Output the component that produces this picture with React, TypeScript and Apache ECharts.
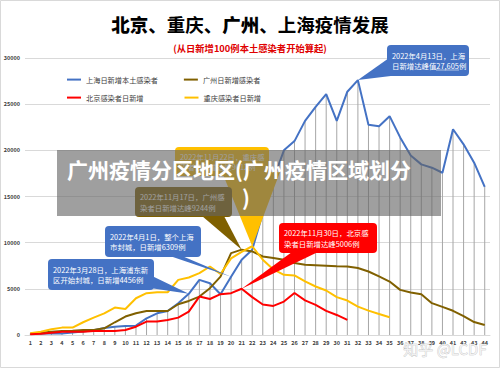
import React, { useEffect, useRef } from "react";
import * as echarts from "echarts";

const FONT = "'Noto Sans CJK SC', 'Noto Sans', sans-serif";

const categories = [
  "1", "2", "3", "4", "5", "6", "7", "8", "9", "10", "11", "12", "13", "14", "15",
  "16", "17", "18", "19", "20", "21", "22", "23", "24", "25", "26", "27", "28", "29", "30",
  "31", "32", "33", "34", "35", "36", "37", "38", "39", "40", "41", "42", "43", "44",
];

const yTicks = { min: 0, max: 30000, interval: 5000 };

const shanghai = [
  169, 139, 202, 158, 260, 374, 509, 758, 896, 981, 1010, 1810, 2350, 2600, 3440,
  4456, 5970, 5610, 4420, 6309, 8150, 9230, 13200, 16850, 20000, 21000, 23190, 24700, 26100, 23190,
  26350, 27605, 22780, 22600, 23700, 21400, 19450, 18480, 18120, 17570, 22280, 20650, 18660, 16050,
];

const guangzhou = [
  110, 250, 360, 430, 470, 540, 540, 720, 1380, 2000, 2350, 2600, 2600, 2600, 3330,
  3690, 4160, 5070, 6330, 8870, 9244, 9050, 8500, 8330, 8150, 7790, 7600, 7550, 7500, 7450,
  7420, 7250, 6880, 6340, 5790, 4890, 4600, 4420, 3450, 3050, 2620, 2050, 1400, 1090,
];

const beijing = [
  70, 140, 250, 360, 360, 360, 430, 430, 430, 540, 900, 1450, 1450, 1630, 1880,
  2530, 4160, 3900, 4420, 4530, 5006, 4100, 3300, 3150, 3620, 4550, 3750, 3260, 2610, 2170,
  1630,
];

const chongqing = [
  180, 360, 615, 800, 800, 1380, 1880, 2350, 2970, 2820, 3980, 4525, 4630, 4630, 5970,
  6230, 6700, 7420, 6600, 8300, 9000, 9612, 8150, 7100, 6520, 6450, 5800, 5250, 4820, 4100,
  3730, 3080, 2640, 2280, 1920,
];

const seriesNames = ["上海日新增本土感染者", "广州日新增感染者", "北京感染者日新增", "重庆感染者日新增"];
const seriesColors = ["#4472c4", "#806000", "#ff0000", "#ffc000"];

// point labels: [seriesIndex, dataIndex, position, offset, color]
const pointLabels: [number, number, string, number[], string][] = [
  [0, 31, "top", [-22, -1], "#2e75b6"],
  [0, 15, "top", [-1, -3], "#2e75b6"],
  [0, 19, "top", [0, -3], "#2e75b6"],
  [1, 20, "top", [0, -2], "#262626"],
  [3, 21, "right", [6, 1], "#ffc000"],
  [2, 20, "bottom", [0, 1], "#ff0000"],
];

// callouts: text, box, color, wedge base, target [series, index]
const callouts = [
  { lines: ["2022年11月22日，重庆感", "染者日新增达峰9612例"], box: [175, 147, 94, 29], color: "#ffc000", base: [[222, 172], [280, 172]], target: [3, 21] },
  { lines: ["2022年11月17日，广州感", "染者日新增达峰9244例"], box: [135, 187, 97, 30], color: "#7f6000", base: [[202, 216], [224, 216]], target: [1, 20] },
  { lines: ["2022年4月1日，整个上海", "市封城，日新增6309例"], box: [105, 226, 96, 31], color: "#4472c4", base: [[164, 254], [182, 256]], target: [0, 19] },
  { lines: ["2022年3月28日，上海浦东新", "区开始封城，日新增4456例"], box: [48, 259, 106, 31], color: "#4472c4", base: [[150, 275], [150, 288]], target: [0, 15] },
  { lines: ["2022年11月30日，北京感", "染者日新增达峰5006例"], box: [279, 223, 98, 30], color: "#ff0000", base: [[292, 252], [318, 252]], target: [2, 20] },
  { lines: ["2022年4月13日，上海", "日新增达峰值27,605例"], box: [387, 45, 82, 31], color: "#4472c4", base: [[389, 58], [399, 75]], target: [0, 31] },
];

const seriesData = [shanghai, guangzhou, beijing, chongqing];

export default function App() {
  const ref = useRef<HTMLDivElement>(null);

  useEffect(() => {
    if (!ref.current) return;
    const chart = echarts.init(ref.current, null, { renderer: "svg" });

    const lineSeries = seriesData.map((arr, si) => ({
      name: seriesNames[si],
      type: "line",
      z: si === 2 ? 6 : 4,
      symbol: "none",
      showSymbol: false,
      lineStyle: { width: 2, color: seriesColors[si] },
      itemStyle: { color: seriesColors[si] },
      data: arr.map((v, i) => {
        const spec = pointLabels.find((p) => p[0] === si && p[1] === i);
        if (!spec) return v;
        return {
          value: v,
          label: {
            show: true,
            position: spec[2],
            offset: spec[3],
            color: spec[4],
            fontSize: 6.5,
            fontWeight: "bold",
            fontFamily: FONT,
            formatter: String(v),
          },
        };
      }),
    }));

    const option: any = {
      animation: false,
      backgroundColor: "#ffffff",
      textStyle: { fontFamily: FONT },
      title: [
        {
          text: "{a|北京}{b|、重庆、}{a|广州}{b|、上海疫情发展}",
          left: "center",
          top: 10,
          textStyle: {
            rich: {
              a: { fontSize: 18.5, fontWeight: 900, color: "#000", fontFamily: FONT },
              b: { fontSize: 18.5, fontWeight: "bold", color: "#000", fontFamily: FONT },
            },
          },
        },
        {
          text: "(从日新增100例本土感染者开始算起)",
          left: "center",
          top: 38,
          textStyle: { fontSize: 9.3, fontWeight: "bold", color: "#e00000", fontFamily: FONT },
        },
      ],
      legend: [
        {
          data: [seriesNames[0], seriesNames[1]],
          left: 62,
          top: 71,
          icon: "rect",
          itemWidth: 14,
          itemHeight: 2,
          itemGap: 26,
          textStyle: { fontSize: 7.2, color: "#404040", fontFamily: FONT },
        },
        {
          data: [seriesNames[2], seriesNames[3]],
          left: 62,
          top: 89,
          icon: "rect",
          itemWidth: 14,
          itemHeight: 2,
          itemGap: 41,
          textStyle: { fontSize: 7.2, color: "#404040", fontFamily: FONT },
        },
      ],
      grid: { left: 25, right: 10, top: 58, bottom: 33 },
      xAxis: {
        type: "category",
        data: categories,
        boundaryGap: true,
        axisLine: { lineStyle: { color: "#d9d9d9" } },
        axisTick: { show: false },
        axisLabel: { interval: 0, fontSize: 5.5, fontWeight: "bold", color: "#404040", margin: 5, fontFamily: FONT },
      },
      yAxis: {
        type: "value",
        min: yTicks.min,
        max: yTicks.max,
        interval: yTicks.interval,
        axisLine: { show: false },
        axisTick: { show: false },
        splitLine: { lineStyle: { color: "#d9d9d9", width: 1 } },
        axisLabel: {
          fontSize: 5.5,
          fontWeight: "bold",
          color: "#404040",
          margin: 5,
          fontFamily: FONT,
          formatter: (v: number) => String(v),
        },
      },
      series: [
        {
          name: "drop",
          type: "bar",
          data: shanghai,
          barWidth: 1,
          z: 1,
          silent: true,
          itemStyle: { color: "#a6a6a6" },
        },
        ...lineSeries,
      ],
    };

    chart.setOption(option);

    const graphics: any[] = [];
    callouts.forEach((c, ci) => {
      const [si, idx] = c.target;
      const tip = chart.convertToPixel({ xAxisIndex: 0, yAxisIndex: 0 }, [idx, seriesData[si][idx]]) as number[];
      const [bx, by, bw, bh] = c.box;
      graphics.push({
        type: "polygon",
        z: 10 + ci,
        shape: { points: [c.base[0], c.base[1], tip] },
        style: { fill: c.color },
        silent: true,
      });
      graphics.push({
        type: "rect",
        z: 10 + ci,
        shape: { x: bx, y: by, width: bw, height: bh, r: 4 },
        style: { fill: c.color },
        silent: true,
      });
      graphics.push({
        type: "text",
        z: 10 + ci,
        x: bx + 5,
        y: by + bh / 2,
        style: {
          text: c.lines.join("\n"),
          fill: "#ffffff",
          fontSize: 7.4,
          lineHeight: 10.5,
          verticalAlign: "middle",
          fontFamily: FONT,
        },
        silent: true,
      });
    });
    // underline under "27,605"
    graphics.push({
      type: "line",
      z: 16,
      shape: { x1: 436, y1: 70, x2: 459, y2: 70 },
      style: { stroke: "#ffffff", lineWidth: 0.6 },
      silent: true,
    });

    // overlay watermark box
    graphics.push({
      type: "rect",
      z: 40,
      shape: { x: 57, y: 150, width: 384, height: 66 },
      style: { fill: "rgba(100,100,100,0.62)" },
      silent: true,
    });
    graphics.push({
      type: "text",
      z: 41,
      x: 239,
      y: 169,
      style: {
        text: "广州疫情分区地区(广州疫情区域划分",
        fill: "#ffffff",
        fontSize: 21,
        fontWeight: "bold",
        align: "center",
        verticalAlign: "middle",
        fontFamily: FONT,
      },
      silent: true,
    });
    graphics.push({
      type: "text",
      z: 41,
      x: 246,
      y: 197,
      style: {
        text: ")",
        fill: "#ffffff",
        fontSize: 21,
        fontWeight: "bold",
        align: "center",
        verticalAlign: "middle",
        fontFamily: FONT,
      },
      silent: true,
    });
    graphics.push({
      type: "text",
      z: 42,
      x: 445,
      y: 348,
      style: {
        text: "知乎 @LCDF",
        fill: "rgba(245,245,245,0.9)",
        stroke: "rgba(170,170,170,0.8)",
        lineWidth: 0.6,
        fontSize: 15,
        align: "center",
        verticalAlign: "middle",
        fontFamily: FONT,
      },
      silent: true,
    });
    graphics.push({
      type: "rect",
      z: 43,
      shape: { x: 0.5, y: 0.5, width: 499, height: 367 },
      style: { fill: "none", stroke: "#d9d9d9", lineWidth: 1 },
      silent: true,
    });

    chart.setOption({ graphic: graphics });

    return () => {
      chart.dispose();
    };
  }, []);

  return (
    <div
      ref={ref}
      style={{ position: "fixed", left: 0, top: 0, width: 500, height: 368 }}
    />
  );
}
